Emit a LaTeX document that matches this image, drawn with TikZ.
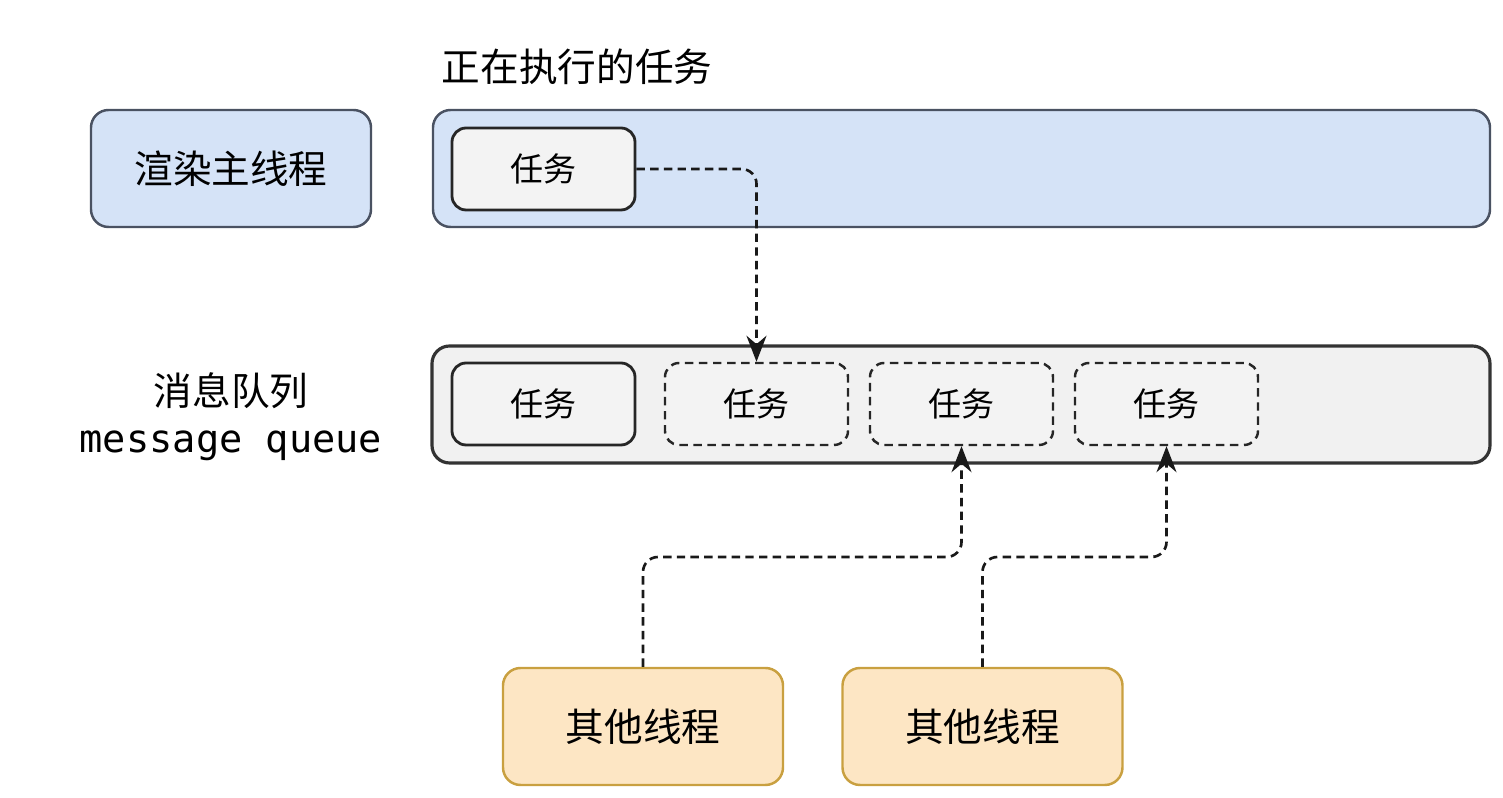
\documentclass[tikz,border=0pt]{standalone}
\usepackage{fontspec}
\setmainfont{Noto Sans CJK SC}
\setmonofont{DejaVu Sans Mono}
\usepackage{tikz}
\usetikzlibrary{arrows.meta,positioning}
\definecolor{thblue}{HTML}{D5E3F7}
\definecolor{thline}{HTML}{4A5262}
\definecolor{tkgrey}{HTML}{F3F3F3}
\definecolor{qgrey}{HTML}{F1F1F1}
\definecolor{othfill}{HTML}{FDE6C4}
\definecolor{othline}{HTML}{C9A040}
\tikzset{
  >={Stealth[length=2.6mm,width=2mm]},
  % rutor
  thbox/.style={rectangle,draw=thline,fill=thblue,line width=0.7pt,rounded corners=5pt,
             minimum width=2.8cm,minimum height=1.17cm,font=\fontsize{11}{13}\selectfont},
  lane/.style={rectangle,draw=thline,fill=thblue,line width=0.7pt,rounded corners=5pt,
             minimum width=10.57cm,minimum height=1.17cm},
  qlane/.style={rectangle,draw=black!80,fill=qgrey,line width=0.9pt,rounded corners=5pt,
             minimum width=10.58cm,minimum height=1.17cm},
  task/.style={rectangle,draw=black!85,fill=tkgrey,line width=0.8pt,rounded corners=4pt,
             minimum width=1.83cm,minimum height=0.82cm,font=\fontsize{9.4}{11}\selectfont},
  slot/.style={task,draw=black!85,dash pattern=on 2.4pt off 1.6pt,line width=0.7pt},
  oth/.style={thbox,draw=othline,fill=othfill},
  % pilar
  flow/.style={->,draw=black!90,line width=0.75pt,dash pattern=on 2.4pt off 1.5pt,
             rounded corners=0.15cm},
}
\begin{document}
\begin{tikzpicture}
\useasboundingbox (0,0) rectangle (15.03,-7.98);
  \node[anchor=west,font=\fontsize{11}{13}\selectfont,inner sep=0pt] (title) at (4.41,-0.67) {正在执行的任务};
  \node[thbox] (main) at (2.31,-1.685) {渲染主线程};
  \node[lane] (run) at (9.615,-1.685) {};
  \node[task] (cur) at (5.435,-1.69) {任务};
  \node[align=center,font=\fontsize{11}{13.3}\selectfont,inner sep=0pt] (qlabel) at (2.31,-4.165)
    {消息队列\\\ttfamily message queue};
  \node[qlane] (queue) at (9.61,-4.045) {};
  \node[task] (q1) at (5.435,-4.04) {任务};
  \node[slot] (q2) at (7.565,-4.04) {任务};
  \node[slot] (q3) at (9.615,-4.04) {任务};
  \node[slot] (q4) at (11.665,-4.04) {任务};
  \node[oth] (oth1) at (6.43,-7.265) {其他线程};
  \node[oth] (oth2) at (9.825,-7.265) {其他线程};
  \coordinate (j1) at (6.43,-5.57);
  \coordinate (j2) at (9.825,-5.57);
  \draw[flow] (cur.east) -| (q2.north);
  \draw[flow] (oth1.north) -- (j1) -| (q3.south);
  \draw[flow] (oth2.north) -- (j2) -| (q4.south);
\end{tikzpicture}
\end{document}
